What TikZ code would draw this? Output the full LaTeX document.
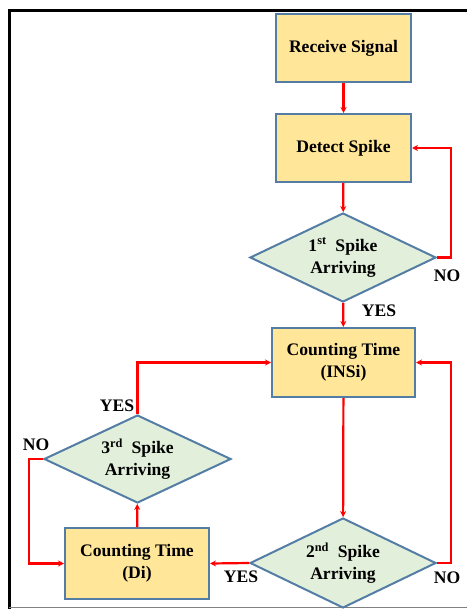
\documentclass[tikz,border=0pt]{standalone}
\usepackage{fontspec}
\setmainfont{Liberation Serif}
\newfontfamily\flowfont{Liberation Serif}
\usetikzlibrary{shapes.geometric,arrows.meta}
\definecolor{boxfill}{RGB}{255,230,153}
\definecolor{boxline}{RGB}{84,125,165}
\definecolor{decfill}{RGB}{226,239,218}
\tikzset{
	procbox/.style={rectangle, draw=boxline, fill=boxfill, line width=2pt, minimum width=135pt, minimum height=68pt, align=center, font=\flowfont\fontsize{17.6}{22}\selectfont\bfseries},
	decision/.style={diamond, draw=boxline, fill=decfill, line width=2pt, aspect=2, inner sep=0pt, minimum width=186pt, minimum height=89pt, align=center, font=\flowfont\fontsize{17.6}{22}\selectfont\bfseries},
	flow/.style={draw=red, line width=2.2pt, -{Stealth[length=6pt,width=6pt]}},
	answer/.style={font=\flowfont\fontsize{17.6}{20}\selectfont\bfseries}
}
\begin{document}
\begin{tikzpicture}[x=1pt, y=-1pt]
		\useasboundingbox (0,0) rectangle (467,609);
		% frame
		\draw[gray!60, line width=0.8pt] (9,9) -- (467,9);
		\draw[line width=3pt] (9.5,609) -- (9.5,11) -- (467,11);
		\draw[gray, line width=0.8pt] (9,607.5) -- (467,607.5);
		% boxes
		\node[procbox] (receive) at (343.5,48) {Receive Signal};
		\node[procbox] (detect) at (343.5,148) {Detect Spike};
		\node[decision] (first) at (343,257.5) {1\textsuperscript{st}\ \ Spike\\Arriving};
		\node[procbox, minimum width=143pt, minimum height=69pt] (insi) at (343.5,362.5) {Counting Time\\(INSi)};
		\node[decision, minimum width=187pt, minimum height=88pt] (third) at (137.5,459) {3\textsuperscript{rd}\ \ Spike\\Arriving};
		\node[procbox, minimum width=144pt, minimum height=71pt] (di) at (137,563.5) {Counting Time\\(Di)};
		\node[decision, minimum height=90pt] (second) at (343,563) {2\textsuperscript{nd}\ \ Spike\\Arriving};
		% arrows
		\draw[flow] (receive) -- (detect);
		\draw[flow] (detect) -- (first);
		\draw[flow] (first.east) -- ++(14,0) |- (detect.east);
		\draw[flow] (first) -- (insi);
		\draw[flow] (insi) -- (second);
		\draw[flow] (second.west) -- (di.east);
		\draw[flow] (second.east) -- ++(14,0) |- (insi.east);
		\draw[flow] (di) -- (third);
		\draw[flow] (third.north) |- (insi.west);
		\draw[flow] (third.west) -- ++(-14,0) |- (di.west);
		% labels
		\node[answer] (noa) at (447,276) {NO};
		\node[answer] (yesa) at (379,311) {YES};
		\node[answer] (yesb) at (117,406) {YES};
		\node[answer] (nob) at (36,445) {NO};
		\node[answer] (yesc) at (241,577) {YES};
		\node[answer] (noc) at (447,578) {NO};
	\end{tikzpicture}
\end{document}
